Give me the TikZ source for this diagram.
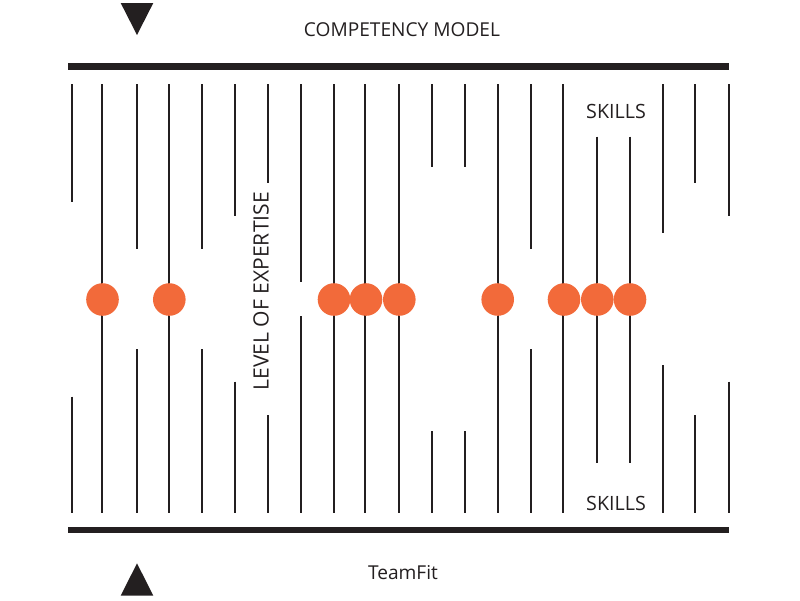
\documentclass[tikz,border=0pt]{standalone}
\usepackage{fontspec}
\setmainfont{Open Sans}
\usetikzlibrary{positioning}
\definecolor{inkblack}{HTML}{231F20}
\definecolor{dotorange}{HTML}{F26A3A}

\begin{document}
\begin{tikzpicture}[
    x=0.025cm, y=-0.025cm,
    bar/.style={draw=inkblack, line width=4.6pt},
    stick/.style={draw=inkblack, line width=1.4pt},
    dot/.style={circle, fill=dotorange, inner sep=0pt, minimum size=0.815cm},
    marker/.style={fill=inkblack},
    label/.style={text=inkblack, font=\fontsize{13.6}{16}\selectfont, inner sep=0pt}
]
\useasboundingbox (0,0) rectangle (800,600);

% Bars
\draw[bar] (68,66.7) -- (729,66.7);
\draw[bar] (68,530) -- (729,530);

% Sticks
\foreach \x/\s/\t/\b/\e in {71.7/84/201.7/396.7/513, 101.7/84/300/300/513,
    136.7/84/249.3/349/513, 169.3/84/300/300/513, 202.3/84/249.3/349/513,
    235.3/84/216/381.7/513, 268.3/84/183.3/415/513, 300.7/84/281.7/316/513,
    334/84/300/300/513, 364.7/84/300/300/513, 399.3/84/300/300/513,
    432/84/166.7/431/513, 465/84/166.7/431/513, 497.7/84/300/300/513,
    530.7/84/249.3/349/513, 563/84/300/300/513, 597.3/136.7/300/300/463.3,
    630/136.7/300/300/463.3, 663/84/233.3/365.3/513, 695.3/84/183.3/415/513,
    728.7/84/216/381.7/513}
    \draw[stick] (\x,\s) -- (\x,\t) (\x,\b) -- (\x,\e);

% Dots
\foreach \x [count=\i] in {102.5,169.3,334,366,399.3,497.7,564,597.3,630}
    \node[dot] (dot\i) at (\x,299.5) {};

% Markers
\fill[marker] (120.7,3) -- (153.3,3) -- (137,35) -- cycle;
\fill[marker] (120.7,595.7) -- (153.3,595.7) -- (137,563.3) -- cycle;

% Labels
\node[label] (model) at (402,29.7) {COMPETENCY MODEL};
\node[label] (teamfit) at (403,573) {TeamFit};
\node[label, font=\fontsize{14}{16}\selectfont] (skillstop) at (616,111.8) {SKILLS};
\node[label, font=\fontsize{14}{16}\selectfont] (skillsbottom) at (616,503.8) {SKILLS};
\node[label, rotate=90, font=\fontsize{15}{18}\selectfont] (expertise) at (261,291.3) {LEVEL OF EXPERTISE};

\end{tikzpicture}
\end{document}
